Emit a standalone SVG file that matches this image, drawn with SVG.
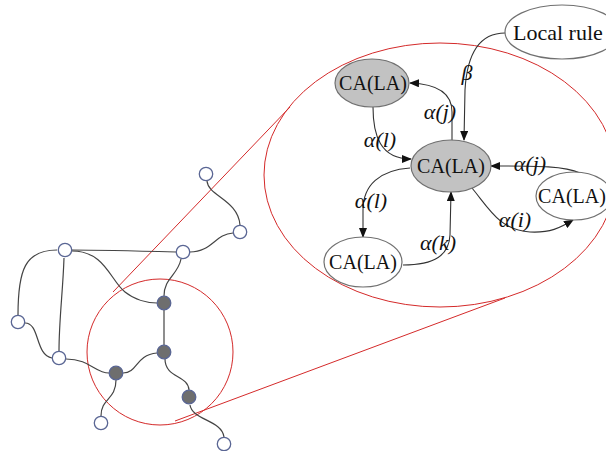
<svg xmlns="http://www.w3.org/2000/svg" width="606" height="451" viewBox="0 0 606 451">
<style>
.e{fill:none;stroke:#444;stroke-width:1.2}
.c{fill:none;stroke:#333;stroke-width:1.1}
.w{fill:#fff;stroke:#5a6694;stroke-width:1.3}
.g{fill:#6e6e6e;stroke:#5a6694;stroke-width:1.3}
.r{fill:none;stroke:#d42a2a;stroke-width:1}
.gn{fill:#c2c2c2;stroke:#707070;stroke-width:1.2}
.wn{fill:#fff;stroke:#707070;stroke-width:1.2}
.t{font-family:"Liberation Serif",serif;font-size:20px;fill:#111;text-anchor:middle}
.l{font-family:"Liberation Serif",serif;font-size:22px;font-style:italic;fill:#111;text-anchor:middle}
</style>
<defs>
<marker id="ah" markerWidth="10" markerHeight="8" refX="9" refY="4" orient="auto" markerUnits="userSpaceOnUse">
<path d="M0,0 L10,4 L0,8 z" fill="#111"/>
</marker>
</defs>
<g id="zoom-outline">
<circle class="r" cx="160" cy="352" r="73"/>
<ellipse class="r" cx="440" cy="175" rx="176" ry="132"/>
<line class="r" x1="113" y1="292" x2="290" y2="107"/>
<line class="r" x1="175" y1="421" x2="505" y2="298"/>
</g>
<g id="graph-edges">
<path class="e" d="M207,181 C208,196 238,200 240,225"/>
<path class="e" d="M233,233 C215,234 212,252 190,252"/>
<path class="e" d="M176,252 C140,251 100,250 72,250"/>
<path class="e" d="M57,250 C25,250 18,270 18,315"/>
<path class="e" d="M64,258 C63,290 59,320 59,351"/>
<path class="e" d="M72,251 C105,251 110,280 125,292 C135,300 148,303 157,303"/>
<path class="e" d="M181,259 C178,275 164,278 164,296"/>
<path class="e" d="M25,323 C40,323 35,355 52,358"/>
<path class="e" d="M66,359 C90,359 95,373 109,373"/>
<path class="e" d="M164,310 L164,345"/>
<path class="e" d="M157,353 C135,355 138,373 123,373"/>
<path class="e" d="M165,359 C165,378 188,375 189,390"/>
<path class="e" d="M116,380 C116,400 101,398 101,416"/>
<path class="e" d="M190,405 C192,420 222,420 224,437"/>
</g>
<g id="n1"><circle class="w" cx="206" cy="174" r="6.7"/></g>
<g id="n2"><circle class="w" cx="240" cy="232" r="6.7"/></g>
<g id="n3"><circle class="w" cx="183" cy="252" r="6.7"/></g>
<g id="n4"><circle class="w" cx="65" cy="250" r="6.7"/></g>
<g id="n5"><circle class="w" cx="18" cy="322" r="6.7"/></g>
<g id="n6"><circle class="w" cx="59" cy="358" r="6.7"/></g>
<g id="n7"><circle class="g" cx="164" cy="303" r="6.8"/></g>
<g id="n8"><circle class="g" cx="164" cy="352" r="6.8"/></g>
<g id="n9"><circle class="g" cx="116" cy="373" r="6.8"/></g>
<g id="n10"><circle class="g" cx="189" cy="397" r="6.8"/></g>
<g id="n11"><circle class="w" cx="101" cy="423" r="6.7"/></g>
<g id="n12"><circle class="w" cx="224" cy="444" r="6.7"/></g>
<g id="connectors">
<path class="c" d="M505,33 C478,33 467,55 465,90 L464,140" marker-end="url(#ah)"/>
<path class="c" d="M452,141 L452,112 C452,95 440,84 410,83" marker-end="url(#ah)"/>
<path class="c" d="M373,107 C373,135 380,159 411,159" marker-end="url(#ah)"/>
<path class="c" d="M410,168 C380,170 363,185 363,210 L363,237" marker-end="url(#ah)"/>
<path class="c" d="M403,265 C435,265 449,255 450,235 L451,192" marker-end="url(#ah)"/>
<path class="c" d="M580,173 C565,166 540,166 491,166" marker-end="url(#ah)"/>
<path class="c" d="M472,188 C490,210 500,230 530,232 C550,233 560,228 573,220" marker-end="url(#ah)"/>
<text class="l" x="467" y="80">β</text>
<text class="l" x="440" y="119">α(j)</text>
<text class="l" x="380" y="147">α(l)</text>
<text class="l" x="371" y="208">α(l)</text>
<text class="l" x="438" y="250">α(k)</text>
<text class="l" x="530" y="171">α(j)</text>
<text class="l" x="515" y="227">α(i)</text>
</g>
<g id="local-rule">
<ellipse class="wn" cx="562" cy="32" rx="57" ry="27"/>
<text class="t" x="513" y="40" style="font-size:22px;text-anchor:start">Local rule</text>
</g>
<g id="ca-top"><ellipse class="gn" cx="372" cy="83" rx="37" ry="24"/><text class="t" x="373" y="90">CA(LA)</text></g>
<g id="ca-center"><ellipse class="gn" cx="451" cy="166" rx="40" ry="26"/><text class="t" x="451" y="173">CA(LA)</text></g>
<g id="ca-right"><ellipse class="wn" cx="574" cy="196" rx="38" ry="24"/><text class="t" x="572" y="203">CA(LA)</text></g>
<g id="ca-bottom"><ellipse class="wn" cx="363" cy="262" rx="39" ry="25"/><text class="t" x="363" y="269">CA(LA)</text></g>
</svg>
